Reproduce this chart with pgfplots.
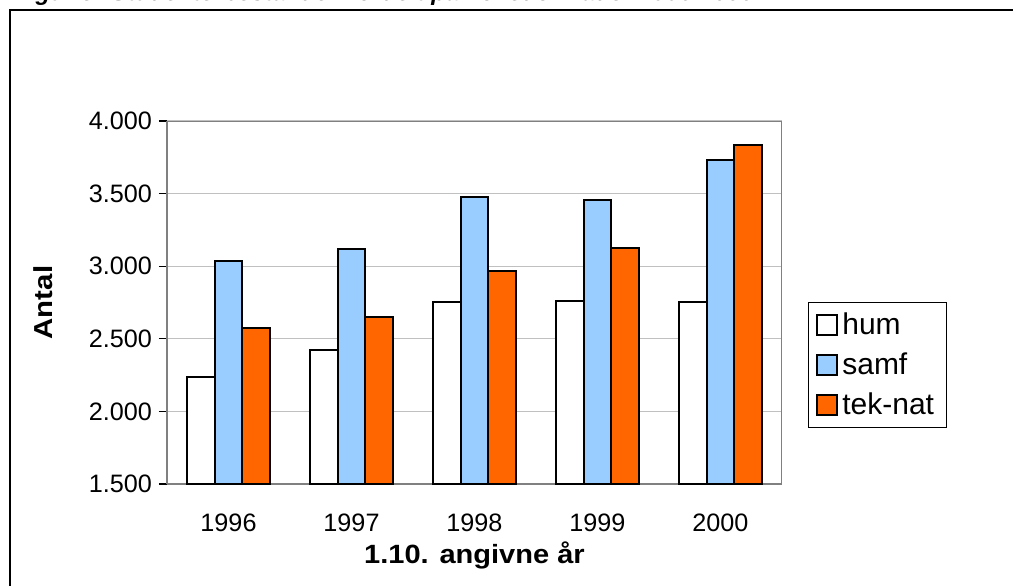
\documentclass[border=0pt]{standalone}
\usepackage{fontspec}
\setmainfont{Liberation Sans}
\usepackage{pgfplots}
\pgfplotsset{compat=1.18}

\definecolor{samfblue}{HTML}{99CCFF}
\definecolor{teknat}{HTML}{FF6600}
\definecolor{gridgray}{HTML}{C0C0C0}
\definecolor{framegray}{HTML}{808080}

\begin{document}
\begin{tikzpicture}
\useasboundingbox (0,0) rectangle (506.5pt,292.5pt);
% cut-off caption and the outer frame
\begin{scope}[overlay]
\clip (0,0) rectangle (506.5pt,292.5pt);
\node[anchor=base west, inner sep=0pt, font=\fontsize{12}{14}\selectfont\bfseries\itshape]
  at (7pt,292.4pt) {Figur 5: Studenterbestanden fordelt på hovedområder 1996-2000};
\draw[line width=1pt] (5pt,-10pt) -- (5pt,287.5pt) -- (520pt,287.5pt);
\end{scope}

\begin{axis}[
    at={(83.5pt,50.5pt)}, anchor=south west,
    scale only axis,
    width=307.5pt, height=181.5pt,
    ybar=0pt,
    bar width=13.75pt,
    xmin=0.5, xmax=5.5,
    ymin=1500, ymax=4000,
    xtick={1,2,3,4,5},
    xticklabels={1996,1997,1998,1999,2000},
    ytick={1500,2000,2500,3000,3500,4000},
    major x tick style={draw=none},
    tick align=outside,
    major tick length=4pt,
    ytick style={black, line width=0.6pt},
    ymajorgrids,
    grid style={gridgray, line width=0.6pt},
    axis line style={framegray, line width=0.9pt},
    axis x line*=bottom,
    axis y line*=left,
    /pgf/number format/.cd, 1000 sep={.}, assume math mode=true,
    /pgfplots/.cd,
    ticklabel style={font=\fontsize{12.6}{15}\selectfont},
    xticklabel style={yshift=-7.5pt},
    xlabel={1.10. angivne år},
    xlabel style={at={(axis description cs:0.5,-0.2185)}, anchor=base, xscale=1.1,
                  font=\fontsize{13.2}{15}\selectfont\bfseries},
    ylabel={Antal},
    ylabel style={at={(axis description cs:-0.1854,0.5)}, anchor=base, xscale=1.13,
                  font=\fontsize{13}{15}\selectfont\bfseries},
    legend style={at={(axis description cs:1.042,0.328)}, anchor=west,
                  draw=black, line width=0.5pt, inner xsep=4pt, inner ysep=3pt,
                  row sep=3.7pt,
                  font=\fontsize{15}{17}\selectfont},
    legend cell align=left,
    legend image code/.code={\draw[#1, line width=1pt] (0pt,-5pt) rectangle (10pt,5pt);},
    every axis plot/.append style={draw=black, line width=1pt},
]
\addplot[fill=white] coordinates {(1,2239) (2,2423) (3,2756) (4,2760) (5,2756)};
\addplot[fill=samfblue] coordinates {(1,3038) (2,3116) (3,3477) (4,3456) (5,3734)};
\addplot[fill=teknat] coordinates {(1,2574) (2,2650) (3,2967) (4,3128) (5,3837)};
\legend{hum, samf, tek-nat}
% top and right frame of the plot area
\draw[framegray, line width=0.9pt] (rel axis cs:0,1) -- (rel axis cs:1,1) -- (rel axis cs:1,0);
\end{axis}
\end{tikzpicture}
\end{document}
